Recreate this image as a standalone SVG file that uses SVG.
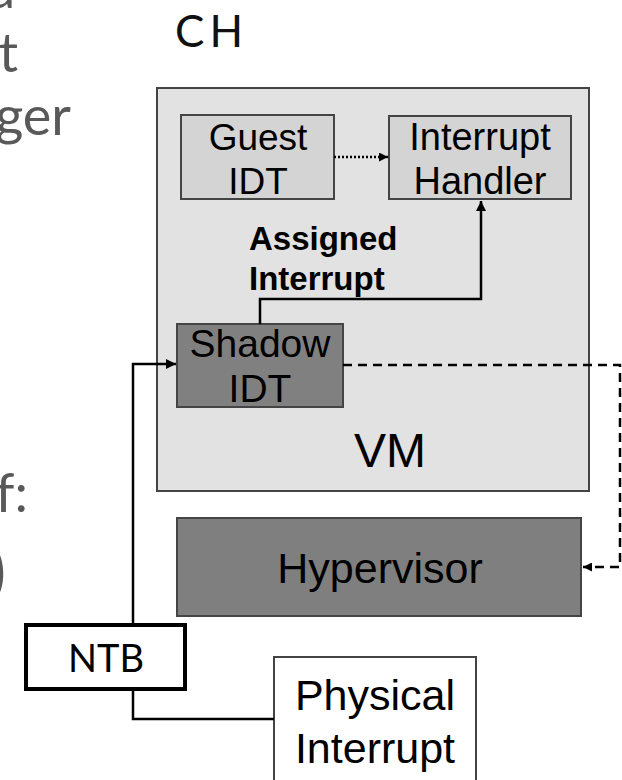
<svg xmlns="http://www.w3.org/2000/svg" width="622" height="780" viewBox="0 0 622 780">
<style>
.slide{font-family:Lato,"Noto Sans",sans-serif;fill:#595959;font-size:54px}
.lbl{font-family:"Liberation Sans",Arial,sans-serif;fill:#000;text-anchor:middle}
.box{stroke:#444;stroke-width:2}
.wire{fill:none;stroke:#000;stroke-width:2.5}
</style>
<defs>
<marker id="ah" viewBox="0 0 10 10" refX="10" refY="5" markerWidth="10" markerHeight="10" markerUnits="userSpaceOnUse" orient="auto">
<path d="M0,0 L10,5 L0,10 Z" fill="#000"/>
</marker>
<marker id="ahs" viewBox="0 0 10 10" refX="10" refY="5" markerWidth="9" markerHeight="9" markerUnits="userSpaceOnUse" orient="auto">
<path d="M0,0 L10,5 L0,10 Z" fill="#000"/>
</marker>
</defs>
<rect width="622" height="780" fill="#fff"/>
<g id="slide-text">
<text class="slide" x="15" y="8" text-anchor="end">a</text>
<text class="slide" x="18" y="72" text-anchor="end">t</text>
<text class="slide" x="71" y="135" text-anchor="end">ger</text>
<text class="slide" x="28" y="512" text-anchor="end">f:</text>
<text class="slide" x="6" y="594" text-anchor="end" style="font-size:64px">)</text>
<text x="175" y="47" textLength="68" style="font-family:Lato,'Noto Sans',sans-serif;font-size:44px;fill:#111">CH</text>
</g>
<g id="vm">
<rect class="box" x="157" y="88" width="432" height="403" fill="#e2e2e2"/>
<text class="lbl" x="390" y="467" style="font-size:48px">VM</text>
</g>
<g id="guest-idt">
<rect class="box" x="181" y="115" width="153" height="84" fill="#d4d4d4"/>
<text class="lbl" x="258" y="150" style="font-size:37px">Guest</text>
<text class="lbl" x="258" y="194" style="font-size:37px">IDT</text>
</g>
<g id="interrupt-handler">
<rect class="box" x="389" y="116" width="182" height="83" fill="#d4d4d4"/>
<text class="lbl" x="480" y="150" style="font-size:38px">Interrupt</text>
<text class="lbl" x="480" y="194" style="font-size:38px">Handler</text>
</g>
<g id="shadow-idt">
<rect class="box" x="177" y="324" width="166" height="83" fill="#808080"/>
<text class="lbl" x="260" y="357" style="font-size:39px">Shadow</text>
<text class="lbl" x="260" y="402" style="font-size:39px">IDT</text>
</g>
<g id="hypervisor">
<rect class="box" x="177" y="518" width="404" height="98" fill="#7f7f7f"/>
<text class="lbl" x="380" y="583" style="font-size:43px">Hypervisor</text>
</g>
<g id="physical-interrupt">
<rect class="box" x="274" y="657" width="202" height="130" fill="#fff"/>
<text class="lbl" x="375" y="710" style="font-size:43px">Physical</text>
<text class="lbl" x="375" y="763" style="font-size:43px">Interrupt</text>
</g>
<g id="ntb">
<rect x="26" y="625" width="159" height="64" fill="#fff" stroke="#000" stroke-width="4"/>
<text x="106" y="672" text-anchor="middle" style="font-family:Lato,'Noto Sans',sans-serif;font-size:38px;fill:#000">NTB</text>
</g>
<g id="connectors">
<path class="wire" d="M334,157 H388" stroke-dasharray="2,2" marker-end="url(#ahs)"/>
<path class="wire" d="M260,324 V299 H481 V201" marker-end="url(#ah)"/>
<path class="wire" d="M133,625 V364 H176" marker-end="url(#ah)"/>
<path class="wire" d="M133,689 V719 H274"/>
<path class="wire" d="M343,365 H620 V567 H583" stroke-width="2" stroke-dasharray="9,6" marker-end="url(#ahs)"/>
<text class="lbl" x="249" y="250" style="font-size:33px;font-weight:bold;text-anchor:start">Assigned</text>
<text class="lbl" x="249" y="290" style="font-size:33px;font-weight:bold;text-anchor:start">Interrupt</text>
</g>
</svg>
